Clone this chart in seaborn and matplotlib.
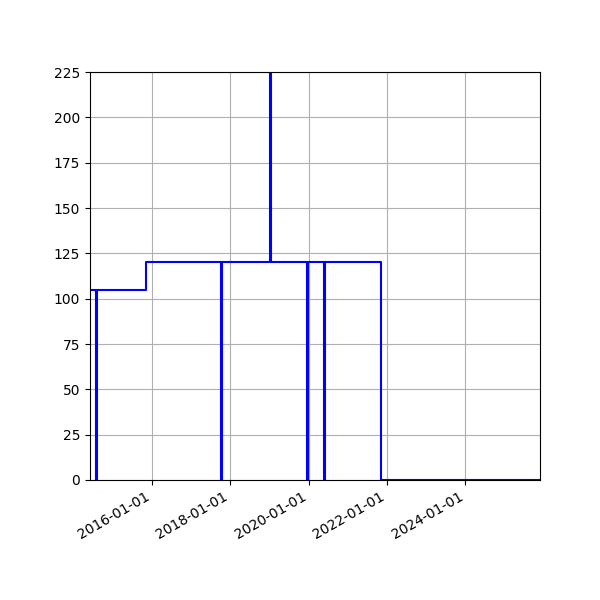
import pandas as pd
import numpy as np
import seaborn as sns
import matplotlib
matplotlib.use('Agg')
import matplotlib.pyplot as plt
import matplotlib.dates as mdates

dates = ['2014-06-05', '2014-08-04', '2014-08-12', '2015-11-06', '2017-10-05', '2017-10-13',
         '2019-01-09', '2019-01-17', '2019-12-14', '2019-12-22', '2020-05-27', '2020-06-03',
         '2021-11-09', '2025-11-25']
values = [105, 0, 105, 120, 0, 120, 240, 120, 0, 120, 0, 120, 0, 0]

data = pd.DataFrame({'date': pd.to_datetime(dates), 'value': values})

sns.set_style('ticks')
plt.rcParams['font.family'] = ['DejaVu Sans']
fig, ax = plt.subplots(figsize=(6, 6), dpi=100)
sns.lineplot(data=data, x='date', y='value', ax=ax, color='blue',
             drawstyle='steps-post', linewidth=1.5)
ax.set_xlim(data['date'].iloc[0], data['date'].iloc[-1])
ax.set_ylim(0, 225)
ax.set_yticks(np.arange(0, 226, 25))
ax.xaxis.set_major_locator(mdates.YearLocator(2))
ax.xaxis.set_major_formatter(mdates.DateFormatter('%Y-%m-%d'))
ax.grid(True, color='#b0b0b0', linewidth=0.8)
ax.set_xlabel('')
ax.set_ylabel('')
for s in ax.spines.values():
    s.set_visible(True)
    s.set_color('black')
    s.set_linewidth(0.8)
ax.tick_params(colors='black', labelsize=10)
fig.autofmt_xdate()
plt.subplots_adjust(left=0.15, right=0.9, top=0.88, bottom=0.2)
plt.savefig('out.png')
